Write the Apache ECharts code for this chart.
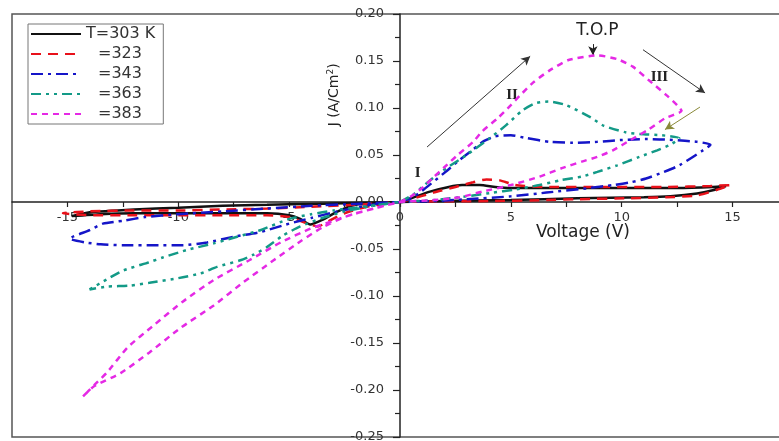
<!DOCTYPE html>
<html><head><meta charset="utf-8">
<script src="https://cdn.jsdelivr.net/npm/echarts@6/dist/echarts.min.js"></script>
<style>html,body{margin:0;padding:0;background:#fff}#c{width:779px;height:441px}</style>
</head><body><div id="c"></div>
<script>
// ---- data ----
const seriesNames = ['T=303 K', '=323', '=343', '=363', '=383'];
const xTickLabels = [-15, -10, -5, 0, 5, 10, 15];
const xTickMarks = [-15, -12.5, -10, -7.5, -5, -2.5, 0, 2.5, 5, 7.5, 10, 12.5, 15];

const s303 = [[0,0],[0.5,0.004],[1.35,0.011],[2.2,0.016],[2.8,0.018],[3.6,0.018],[4.3,0.016],[5,0.015],[6.5,0.015],[8,0.015],[10,0.015],[12.5,0.015],[14.1,0.016],[14.7,0.017],[14.2,0.013],[13.4,0.009],[12.2,0.006],[11,0.005],[8,0.004],[5,0.002],[2,0.001],[0,0],
  [-1,-0.001],[-2,-0.003],[-2.8,-0.01],[-3.5,-0.019],[-4.05,-0.024],[-4.5,-0.018],[-5,-0.014],[-6,-0.012],[-8,-0.012],[-10,-0.012],[-12,-0.012],[-13.5,-0.013],[-14.8,-0.015],[-14,-0.011],[-12,-0.008],[-10,-0.006],[-8,-0.004],[-6,-0.003],[-4,-0.002],[-2,-0.001],[0,0]];

const s323 = [[0,0],[0.5,0.003],[1.5,0.01],[2.5,0.016],[3.3,0.021],[3.9,0.024],[4.5,0.023],[5.2,0.018],[6.5,0.016],[9,0.016],[12,0.016],[14,0.017],[14.9,0.018],[14.3,0.013],[13.4,0.007],[12,0.005],[10.4,0.004],[8,0.003],[6.6,0.002],[4,0.001],[0,0],
  [-1.5,-0.005],[-2.5,-0.012],[-3.2,-0.02],[-3.7,-0.026],[-4.3,-0.022],[-5,-0.016],[-6,-0.014],[-8,-0.014],[-10,-0.014],[-12,-0.014],[-14,-0.014],[-15.2,-0.012],[-14,-0.01],[-12,-0.009],[-10,-0.009],[-8,-0.008],[-6,-0.007],[-4,-0.005],[-2,-0.003],[0,0]];

const s343 = [[0,0],[0.5,0.004],[1,0.012],[2,0.031],[2.7,0.045],[3.3,0.056],[3.8,0.065],[4.3,0.07],[5,0.071],[5.7,0.068],[6.75,0.064],[7.8,0.063],[8.9,0.064],[10,0.066],[11.1,0.067],[12.3,0.066],[13.4,0.064],[14,0.061],[13.6,0.054],[12.6,0.039],[11.9,0.032],[11.1,0.025],[10.4,0.021],[9.6,0.018],[8.6,0.015],[6.6,0.01],[5,0.006],[3,0.003],[1.5,0.001],[0,0],
  [-1,-0.002],[-2,-0.006],[-3,-0.011],[-4,-0.017],[-5,-0.023],[-6.3,-0.032],[-7.5,-0.037],[-8.7,-0.043],[-9.8,-0.046],[-11,-0.046],[-12.5,-0.046],[-13.5,-0.045],[-14.2,-0.043],[-14.9,-0.039],[-14,-0.03],[-13.4,-0.023],[-12.5,-0.02],[-11.5,-0.016],[-10,-0.013],[-8,-0.01],[-6,-0.007],[-4,-0.004],[-2,-0.002],[0,0]];

const s363 = [[0,0],[0.6,0.008],[1.2,0.02],[1.9,0.033],[3,0.05],[4,0.067],[4.8,0.082],[5.5,0.097],[6.1,0.105],[6.7,0.107],[7.5,0.103],[8.6,0.09],[9.2,0.081],[10.2,0.074],[11,0.072],[11.8,0.071],[12.6,0.068],[12.2,0.061],[11.6,0.055],[10.8,0.048],[9.8,0.039],[8.9,0.032],[8.2,0.027],[7.2,0.023],[6.3,0.018],[5.1,0.013],[4.2,0.01],[3,0.006],[1.5,0.002],[0,0],
  [-1,-0.003],[-2,-0.006],[-3,-0.009],[-4,-0.013],[-5,-0.018],[-6.3,-0.03],[-7.5,-0.038],[-8.4,-0.044],[-9.6,-0.051],[-10.7,-0.059],[-11.3,-0.064],[-12.5,-0.073],[-13.2,-0.082],[-14,-0.093],[-13.2,-0.09],[-12.2,-0.089],[-11.3,-0.086],[-10,-0.081],[-9,-0.076],[-8.25,-0.069],[-7.2,-0.062],[-6.6,-0.056],[-6,-0.048],[-5.3,-0.036],[-4.5,-0.026],[-3.5,-0.017],[-2.5,-0.01],[-1.2,-0.004],[0,0]];

const s383 = [[0,0],[0.5,0.006],[0.9,0.013],[1.5,0.026],[2.0,0.037],[2.6,0.05],[3.3,0.064],[3.7,0.075],[4.4,0.089],[5.0,0.103],[5.4,0.113],[6.0,0.127],[6.75,0.14],[7.6,0.151],[8.9,0.156],[9.8,0.152],[10.5,0.144],[11.2,0.13],[12.0,0.114],[12.5,0.103],[12.7,0.097],[11.95,0.089],[11.2,0.077],[10.4,0.066],[9.6,0.055],[8.9,0.048],[8.2,0.043],[7.3,0.036],[6.3,0.027],[5.0,0.018],[3.7,0.011],[2.7,0.005],[1.5,0.002],[0,0],
  [-1,-0.006],[-2,-0.012],[-3,-0.02],[-4,-0.028],[-5.3,-0.042],[-6.8,-0.062],[-8.4,-0.083],[-9.8,-0.106],[-11.1,-0.131],[-12.3,-0.155],[-13.2,-0.181],[-13.8,-0.195],[-14.3,-0.207],[-13.8,-0.196],[-12.6,-0.182],[-11.3,-0.16],[-9.9,-0.134],[-8.4,-0.11],[-7.1,-0.086],[-5.7,-0.062],[-4.5,-0.042],[-3.5,-0.027],[-2.5,-0.016],[-1.2,-0.007],[0,0]];

// annotation positions (data coordinates)
const arrowLines = [
  [[1.22, 0.0585], [5.87, 0.155], '#333'],
  [[8.7, 0.168], [8.7, 0.156], '#222'],
  [[10.96, 0.162], [13.76, 0.116], '#333'],
  [[13.53, 0.101], [11.95, 0.077], '#8a8a3a']
];
const annoTexts = [
  ['T.O.P', [8.9, 0.182], 17, 'DejaVu Sans', 'normal'],
  ['I', [0.8, 0.031], 15, 'Liberation Serif', 'bold'],
  ['II', [5.05, 0.114], 15, 'Liberation Serif', 'bold'],
  ['III', [11.7, 0.133], 15, 'Liberation Serif', 'bold'],
  ['Voltage (V)', [8.25, -0.032], 17, 'DejaVu Sans', 'normal']
];
const yTitlePos = [-2.98, 0.114];

// ---- axis ranges & layout ----
const xMin = -17.5, xMax = 17.5, yMin = -0.25, yMax = 0.2;
const W = 779, H = 441;
const gL = 12, gR = -9, gT = 14, gB = 4;
const gW = W - gL - gR, gH = H - gT - gB;
// move the axes so they cross at the origin (labels follow the lines)
const xAxisOffset = -gH * (0 - yMin) / (yMax - yMin);
const yAxisOffset = -gW * (0 - xMin) / (xMax - xMin);

// ---- styles ----
const colors = ['#111111', '#e8111a', '#1515c8', '#139a87', '#e529e5'];
const dashes = ['solid', [10, 7], [12, 5, 3, 5], [10, 5, 3, 5, 3, 5], [6, 5]];
const datasets = [s303, s323, s343, s363, s383];

const chart = echarts.init(document.getElementById('c'), null, {renderer: 'canvas'});

const series = datasets.map((d, i) => ({
  name: seriesNames[i],
  type: 'line',
  data: d,
  symbol: 'none',
  smooth: 0.2,
  z: 3 + i,
  lineStyle: {color: colors[i], width: 2.5, type: dashes[i]},
  itemStyle: {color: colors[i]},
  animation: false
}));

series.push({
  name: 'anno',
  type: 'line',
  data: [],
  symbol: 'none',
  silent: true,
  z: 20,
  markLine: {
    silent: true,
    animation: false,
    symbol: ['none', 'arrow'],
    symbolSize: [7, 9],
    label: {show: false},
    lineStyle: {type: 'solid', width: 1},
    data: arrowLines.map(a => [
      {coord: a[0], lineStyle: {color: a[2], type: 'solid', width: 1}, itemStyle: {color: a[2]}},
      {coord: a[1]}
    ])
  },
  markPoint: {
    silent: true,
    animation: false,
    symbol: 'circle',
    symbolSize: 1,
    itemStyle: {color: 'rgba(0,0,0,0)'},
    data: annoTexts.map(t => ({
      name: t[0], coord: t[1],
      label: {show: true, position: 'inside', formatter: t[0], fontSize: t[2], fontFamily: t[3], fontWeight: t[4], color: '#222'}
    })).concat([{
      name: 'ytitle', coord: yTitlePos,
      label: {
        show: true, position: 'inside', rotate: 90,
        formatter: '{a|J (A/Cm}{s|2}{a|)}',
        rich: {
          a: {fontSize: 14, fontFamily: 'DejaVu Sans', color: '#222'},
          s: {fontSize: 9, fontFamily: 'DejaVu Sans', color: '#222', verticalAlign: 'top', padding: [0, 0, 6, 0]}
        }
      }
    }])
  }
});

chart.setOption({
  animation: false,
  backgroundColor: '#fff',
  grid: {left: gL, right: gR, top: gT, bottom: gB, containLabel: false, outerBoundsMode: 'none',
         show: true, borderColor: '#555', borderWidth: 1.5, backgroundColor: 'transparent'},
  legend: {
    data: seriesNames,
    orient: 'vertical', left: 28, top: 24,
    itemWidth: 50, itemHeight: 14, itemGap: 4,
    padding: [2, 8, 2, 2],
    borderColor: '#777', borderWidth: 1, backgroundColor: '#fff',
    itemStyle: {opacity: 0},
    formatter: n => n.charAt(0) === 'T' ? n : '{p|}' + n,
    textStyle: {fontSize: 16, fontFamily: 'DejaVu Sans', color: '#333', rich: {p: {width: 12}}},
    z: 30
  },
  xAxis: {
    type: 'value', min: xMin, max: xMax, position: 'bottom', offset: xAxisOffset,
    axisLine: {onZero: false, lineStyle: {color: '#222', width: 1.5}},
    axisTick: {show: true, customValues: xTickMarks, length: 5, lineStyle: {color: '#222', width: 1.2}},
    axisLabel: {customValues: xTickLabels, margin: 9, fontSize: 13, fontFamily: 'DejaVu Sans', color: '#333'},
    splitLine: {show: false}
  },
  yAxis: {
    type: 'value', min: yMin, max: yMax, interval: 0.05, position: 'left', offset: yAxisOffset,
    axisLine: {onZero: false, lineStyle: {color: '#222', width: 1.5}},
    axisTick: {show: true, length: 7, lineStyle: {color: '#222', width: 1.2}},
    minorTick: {show: true, splitNumber: 2, length: 5, lineStyle: {color: '#222', width: 1.2}},
    axisLabel: {margin: 16, fontSize: 13, fontFamily: 'DejaVu Sans', color: '#333', formatter: v => v.toFixed(2)},
    splitLine: {show: false}
  },
  series: series
});
</script>
</body></html>
